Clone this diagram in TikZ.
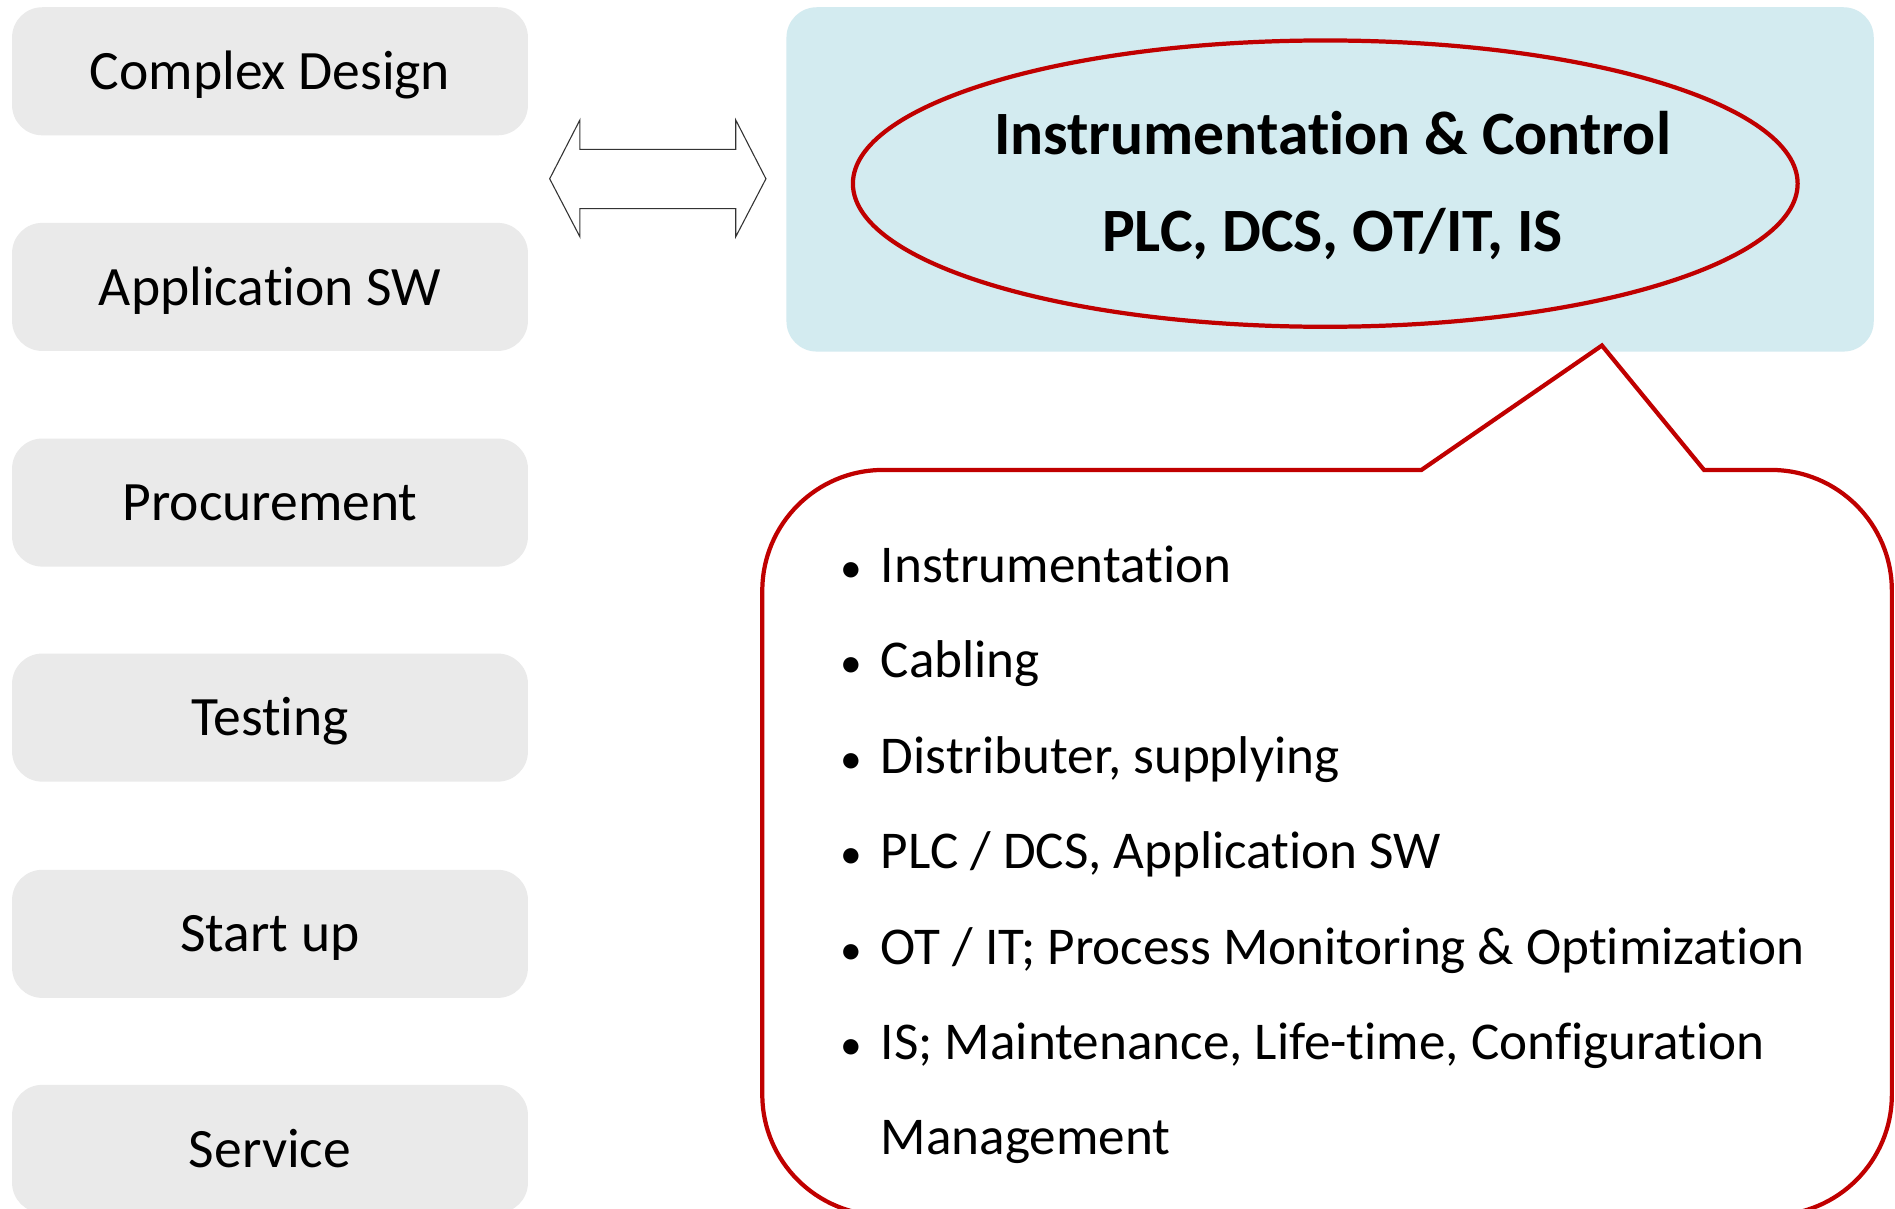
\documentclass[tikz,border=0pt]{standalone}
\usepackage{fontspec}
\setmainfont{Carlito}[Ligatures=NoCommon]
\usetikzlibrary{shapes.geometric}
\begin{document}
\begin{tikzpicture}[x=1pt,y=-1pt,
  stagebox/.style={draw=none,fill=boxgray,rounded corners=25pt,minimum width=427pt,minimum height=106pt,inner sep=0pt,
    font=\fontsize{46}{50}\selectfont,text height=30pt,text depth=0pt},
  bullettext/.style={anchor=base west,inner sep=0pt,font=\fontsize{44}{48}\selectfont},
  bulletdot/.style={anchor=base,inner sep=0pt,font=\fontsize{36}{40}\selectfont},
  titletext/.style={anchor=base,inner sep=0pt,font=\fontsize{51}{55}\selectfont\bfseries},
  redline/.style={draw=redc,line width=3.5pt}]
\definecolor{boxgray}{HTML}{EAEAEA}
\definecolor{bluebg}{HTML}{D3EBF0}
\definecolor{redc}{HTML}{C00000}
\clip (0,0) rectangle (1568.6,1000);
\fill[white] (0,0) rectangle (1568.6,1000);
% left stage boxes
\node[stagebox] (s1) at (223.5,59) {Complex Design};
\node[stagebox] (s2) at (223.5,237.5) {Application SW};
\node[stagebox] (s3) at (223.5,416) {Procurement};
\node[stagebox] (s4) at (223.5,594) {Testing};
\node[stagebox] (s5) at (223.5,773) {Start up};
\node[stagebox] (s6) at (223.5,951) {Service};
% double arrow
\draw[draw=black!80,line width=0.9pt,fill=white,line join=miter]
  (455,148) -- (480,99.3) -- (480,123.6) -- (609,123.6) -- (609,99.3) -- (634,148)
  -- (609,196) -- (609,172.7) -- (480,172.7) -- (480,196) -- cycle;
% blue box
\node[fill=bluebg,rounded corners=25pt,minimum width=900pt,minimum height=285pt,inner sep=0pt] (bb) at (1101,148.5) {};
\node[redline,ellipse,minimum width=782pt,minimum height=237pt,inner sep=0pt] (el) at (1097,152) {};
\node[titletext] (t1) at (1103,128) {Instrumentation \& Control};
\node[titletext] (t2) at (1103,208) {PLC, DCS, OT/IT, IS};
% callout
\draw[redline,fill=white,line join=miter]
  (1176.6,389) -- (1326,286) -- (1410.5,389) -- (1466,389)
  .. controls (1521.2,389) and (1566,433.8) .. (1566,489) -- (1566,906)
  .. controls (1566,961.2) and (1521.2,1006) .. (1466,1006) -- (731,1006)
  .. controls (675.8,1006) and (631,961.2) .. (631,906) -- (631,489)
  .. controls (631,433.8) and (675.8,389) .. (731,389) -- cycle;
\foreach \yy/\txt [count=\i] in {482/Instrumentation,561/Cabling,640/{Distributer, supplying},719/{PLC / DCS, Application SW},798/{OT / IT; Process Monitoring \& Optimization},877/{IS; Maintenance, Life-time, Configuration}}{
  \node[bulletdot] (d\i) at (705,\yy) {\textbullet};
  \node[bullettext] (b\i) at (729,\yy) {\txt};
}
\node[bullettext] (b7) at (729,956) {Management};
\end{tikzpicture}
\end{document}
